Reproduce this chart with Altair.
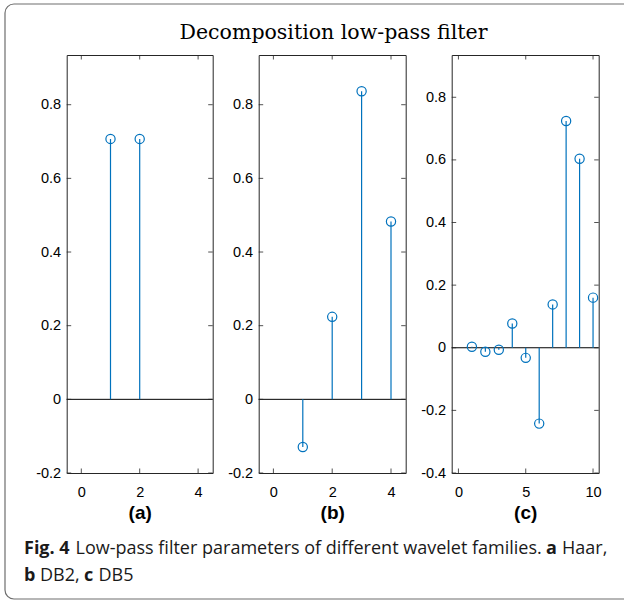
import altair as alt
import pandas as pd

# ---------------- data ----------------
haar_n = [1, 2]
haar_v = [0.7071, 0.7071]
db2_n = [1, 2, 3, 4]
db2_v = [-0.1294, 0.2241, 0.8365, 0.4830]
db5_n = [1, 2, 3, 4, 5, 6, 7, 8, 9, 10]
db5_v = [0.0033, -0.0126, -0.0062, 0.0776, -0.0322, -0.2423, 0.1384, 0.7243, 0.6038, 0.1601]

x_ticks_ab = [0, 2, 4]
x_ticks_c = [0, 5, 10]
y_ticks_ab = [-0.2, 0, 0.2, 0.4, 0.6, 0.8]
y_ticks_c = [-0.4, -0.2, 0, 0.2, 0.4, 0.6, 0.8]

panel_labels = ["(a)", "(b)", "(c)"]
main_title = "Decomposition low-pass filter"
caption_line1 = [("Fig. 4", "bold"),
                 ("Low-pass filter parameters of different wavelet families.", "normal"),
                 ("a", "bold"), ("Haar,", "normal")]
caption_line2 = [("b", "bold"), ("DB2,", "normal"), ("c", "bold"), ("DB5", "normal")]

# ---------------- layout / style ----------------
BLUE = "#0072BD"
AXC = "#262626"
H = 418
W_A, W_B, W_C = 146, 147, 147
SPACING = 46
LEFT, TOP = 66.7, 55
TICK = 4.5
LABEL_FONT = "Liberation Sans"
cap_x1 = [24, 75.5, 546, 562]
cap_x2 = [24, 40, 84, 98.5]
cap_y1, cap_y2 = 554, 581

label_expr = "(datum.value < 0 ? '-' : '') + format(abs(datum.value), '~g')"


def panel(n, v, xdom, ydom, xt, yt, label, W, extra=None):
    df = pd.DataFrame({"n": n, "v": v, "z": [0.0] * len(n)})
    xs = alt.Scale(domain=xdom, nice=False, zero=False)
    ys = alt.Scale(domain=ydom, nice=False, zero=False)
    xax = alt.Axis(values=xt, title=label, ticks=False, tickSize=0, domain=False,
                   grid=False, labelFont=LABEL_FONT, labelFontSize=14.5,
                   labelColor="#000000", labelPadding=12, labelFlush=False,
                   titleFont=LABEL_FONT, titleFontSize=19, titleFontWeight="bold",
                   titleColor="#000000", titlePadding=5)
    yax = alt.Axis(values=yt, title=None, ticks=False, tickSize=0, domain=False,
                   grid=False, labelFont=LABEL_FONT, labelFontSize=14.5,
                   labelColor="#000000", labelPadding=6, labelExpr=label_expr)
    X = alt.X("n:Q", scale=xs, axis=xax)
    Y = alt.Y("v:Q", scale=ys, axis=yax)

    zero = alt.Chart(pd.DataFrame({"v": [0.0]})).mark_rule(
        color="#000000", strokeWidth=1).encode(y=Y)
    stems = alt.Chart(df).mark_rule(color=BLUE, strokeWidth=1.2).encode(
        x=X, y=Y, y2="z:Q")
    pts = alt.Chart(df).mark_point(shape="circle", filled=False, size=85,
                                   color=BLUE, strokeWidth=1.2, opacity=1).encode(x=X, y=Y)
    ydf = pd.DataFrame({"v": yt})
    xdf = pd.DataFrame({"n": xt})
    tl = alt.Chart(ydf).mark_rule(color=AXC, strokeWidth=0.8).encode(
        y=Y, x=alt.value(0), x2=alt.value(TICK))
    tr = alt.Chart(ydf).mark_rule(color=AXC, strokeWidth=0.8).encode(
        y=Y, x=alt.value(W - TICK), x2=alt.value(W))
    tt = alt.Chart(xdf).mark_rule(color=AXC, strokeWidth=0.8).encode(
        x=X, y=alt.value(0), y2=alt.value(TICK))
    tb = alt.Chart(xdf).mark_rule(color=AXC, strokeWidth=0.8).encode(
        x=X, y=alt.value(H - TICK), y2=alt.value(H))
    layers = [zero, tl, tr, tt, tb, stems, pts] + (extra or [])
    return alt.layer(*layers).properties(width=W, height=H)


one = pd.DataFrame({"k": [0]})

# outer rounded frame (decoration) drawn from panel (a)
frame = alt.Chart(one).mark_rect(filled=False, stroke="#6e6e6e", strokeWidth=1.2,
                                 cornerRadius=9).encode(
    x=alt.value(5 - LEFT), x2=alt.value(660 - LEFT),
    y=alt.value(4 - TOP), y2=alt.value(599 - TOP))

cap_marks = []
for segs, xs_, yb in ((caption_line1, cap_x1, cap_y1), (caption_line2, cap_x2, cap_y2)):
    for (txt, wt), xx in zip(segs, xs_):
        cap_marks.append(
            alt.Chart(one).mark_text(text=txt, font="Open Sans", fontSize=18,
                                     fontWeight=wt, color="#1a1a1a", align="left",
                                     baseline="alphabetic").encode(
                x=alt.value(xx - LEFT), y=alt.value(yb - TOP)))

b_left = LEFT + W_A + SPACING
title_mark = alt.Chart(one).mark_text(text=main_title, font="DejaVu Serif", fontSize=20.5,
                                      color="#000000", align="center",
                                      baseline="alphabetic").encode(
    x=alt.value(333.5 - b_left), y=alt.value(39 - TOP))

pa = panel(haar_n, haar_v, [-0.5, 4.5], [-0.2, 0.935], x_ticks_ab, y_ticks_ab,
           panel_labels[0], W_A, [frame] + cap_marks)
pb = panel(db2_n, db2_v, [-0.5, 4.5], [-0.2, 0.935], x_ticks_ab, y_ticks_ab,
           panel_labels[1], W_B, [title_mark])
pc = panel(db5_n, db5_v, [-0.5, 10.42], [-0.4, 0.935], x_ticks_c, y_ticks_c,
           panel_labels[2], W_C)

chart = alt.hconcat(pa, pb, pc, spacing=SPACING, bounds="flush").properties(
    padding={"left": LEFT, "top": TOP, "right": 624 - LEFT, "bottom": 602 - TOP},
    autosize=alt.AutoSizeParams(type="none"),
    background="white",
).configure_view(stroke=AXC, strokeWidth=1)

chart.save("out.html", embed_options={"renderer": "svg", "actions": False})
